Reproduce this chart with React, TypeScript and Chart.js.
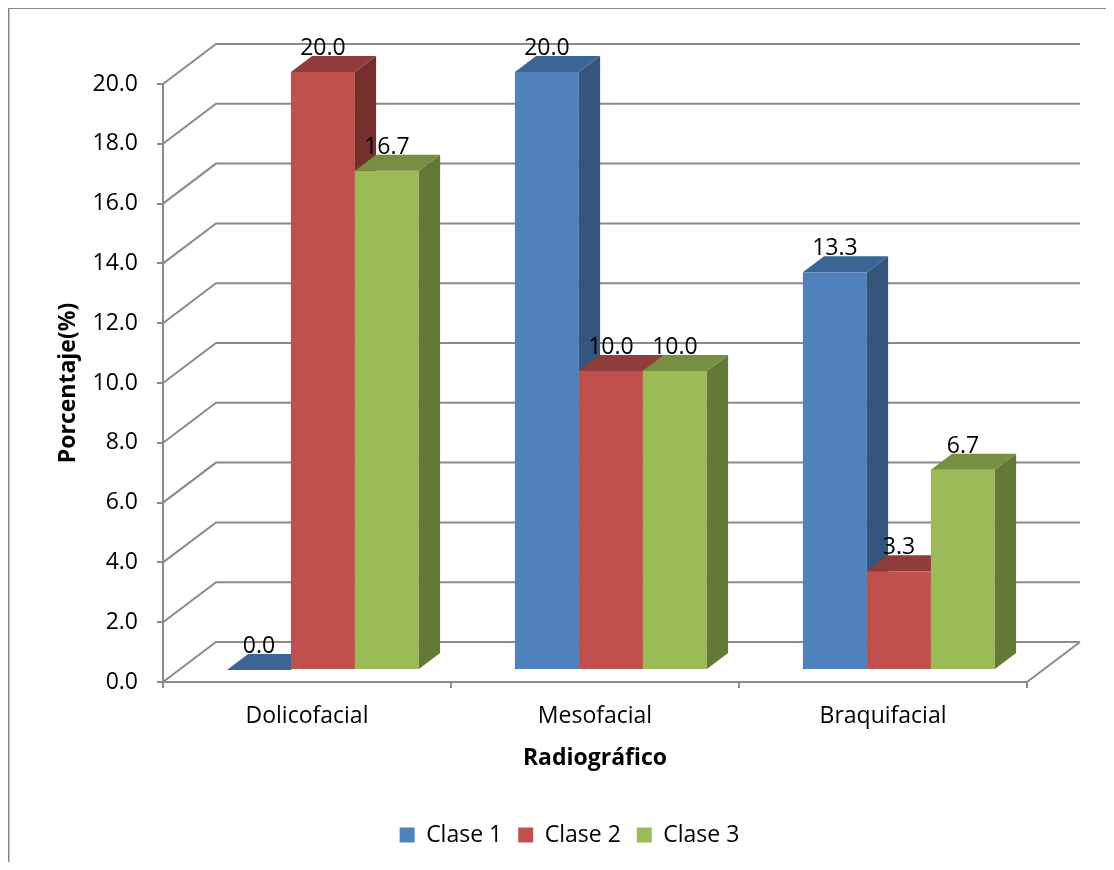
import React, { useEffect, useRef } from "react";
import { Chart, registerables } from "chart.js";

Chart.register(...registerables);

// Chart data
const categories = ["Dolicofacial", "Mesofacial", "Braquifacial"];
const seriesNames = ["Clase 1", "Clase 2", "Clase 3"];
const clase1 = [0.0, 20.0, 13.3];
const clase2 = [20.0, 10.0, 3.3];
const clase3 = [16.7, 10.0, 6.7];
const seriesValues = [clase1, clase2, clase3];

const yMin = 0;
const yMax = 20;
const yStep = 2;

// Face colours per series: front, top, side
const faceColors = [
  { front: "#4F81BD", top: "#3C6595", side: "#34557C" },
  { front: "#C0504D", top: "#8F3C3A", side: "#772F2D" },
  { front: "#9BBB59", top: "#768F41", side: "#647838" },
];

const FONT = "'Open Sans', 'DejaVu Sans', sans-serif";
const FONT_SIZE = 23;
const LINE = "#8a8a8a";

// 3D projection: full depth of the box, and where the bars sit in it
const DEPTH_X = 53;
const DEPTH_Y = -40;
const BAR_NEAR = 0.3;
const BAR_FAR = 0.7;

// left edge of the legend band, so the legend centres under the whole frame
const LEGEND_LEFT = 104;

const frame = {
  id: "frame",
  afterDraw(chart: any) {
    const { ctx, width, height } = chart;
    ctx.save();
    ctx.fillStyle = "#868686";
    ctx.fillRect(0, 0, width, 1);
    ctx.fillRect(0, 0, 1.5, height);
    ctx.restore();
  },
};

const legendBand = {
  id: "legendBand",
  afterLayout(chart: any) {
    const lg = chart.legend;
    if (lg) {
      lg.left = LEGEND_LEFT;
      lg.width = lg.right - lg.left;
    }
  },
};

const box3d = {
  id: "box3d",
  beforeDatasetsDraw(chart: any) {
    const { ctx, chartArea, scales } = chart;
    const ys = scales.y;
    const L = chartArea.left;
    const R = chartArea.right;

    ctx.save();
    // side wall diagonals and back wall gridlines
    ctx.strokeStyle = LINE;
    ctx.lineWidth = 2;
    ctx.beginPath();
    for (const t of ys.ticks) {
      const py = ys.getPixelForValue(t.value);
      ctx.moveTo(L, py);
      ctx.lineTo(L + DEPTH_X, py + DEPTH_Y);
      ctx.lineTo(R + DEPTH_X, py + DEPTH_Y);
    }
    const p0 = ys.getPixelForValue(yMin);
    ctx.moveTo(R, p0);
    ctx.lineTo(R + DEPTH_X, p0 + DEPTH_Y);
    ctx.stroke();

    // boxes, drawn left to right so later fronts cover earlier sides
    const sx = DEPTH_X * BAR_NEAR;
    const sy = DEPTH_Y * BAR_NEAR;
    const dx = DEPTH_X * (BAR_FAR - BAR_NEAR);
    const dy = DEPTH_Y * (BAR_FAR - BAR_NEAR);
    const metas = chart.data.datasets.map((_: any, i: number) => chart.getDatasetMeta(i));
    const labels: { x: number; y: number; text: string }[] = [];

    for (let j = 0; j < categories.length; j++) {
      for (let i = 0; i < metas.length; i++) {
        const el = metas[i].data[j];
        const { x, y, base, width } = el.getProps(["x", "y", "base", "width"], true);
        const c = faceColors[i];
        const x0 = x - width / 2 + sx;
        const x1 = x + width / 2 + sx;
        const yt = y + sy;
        const yb = base + sy;

        if (yb - yt > 0.5) {
          ctx.fillStyle = c.front;
          ctx.fillRect(x0, yt, x1 - x0, yb - yt);
          ctx.fillStyle = c.side;
          ctx.beginPath();
          ctx.moveTo(x1, yt);
          ctx.lineTo(x1 + dx, yt + dy);
          ctx.lineTo(x1 + dx, yb + dy);
          ctx.lineTo(x1, yb);
          ctx.closePath();
          ctx.fill();
        }
        ctx.fillStyle = c.top;
        ctx.beginPath();
        ctx.moveTo(x0, yt);
        ctx.lineTo(x1, yt);
        ctx.lineTo(x1 + dx, yt + dy);
        ctx.lineTo(x0 + dx, yt + dy);
        ctx.closePath();
        ctx.fill();

        const v = seriesValues[i][j];
        labels.push({ x: x + sx, y: yt - 17, text: v.toFixed(1) });
      }
    }

    // value labels
    ctx.fillStyle = "#000";
    ctx.font = `${FONT_SIZE}px ${FONT}`;
    ctx.textAlign = "center";
    ctx.textBaseline = "alphabetic";
    for (const lb of labels) ctx.fillText(lb.text, lb.x, lb.y);

    ctx.restore();
    return false;
  },
};

export default function App() {
  const ref = useRef<HTMLCanvasElement>(null);

  useEffect(() => {
    const canvas = ref.current;
    if (!canvas) return;
    const chart = new Chart(canvas, {
      type: "bar",
      data: {
        labels: categories,
        datasets: seriesNames.map((name, i) => ({
          label: name,
          data: seriesValues[i],
          backgroundColor: faceColors[i].front,
          borderWidth: 0,
        })),
      },
      options: {
        responsive: false,
        animation: false,
        devicePixelRatio: 1,
        layout: { padding: { left: 0, right: 79, top: 76, bottom: 5.5 } },
        datasets: { bar: { categoryPercentage: 2 / 3, barPercentage: 1 } },
        scales: {
          x: {
            offset: true,
            grid: { offset: true, drawOnChartArea: false, tickLength: 6, color: LINE, lineWidth: 2 },
            border: { color: LINE, width: 2 },
            ticks: { padding: 15, color: "#000", font: { family: FONT, size: FONT_SIZE } },
            title: {
              display: true,
              text: "Radiográfico",
              color: "#000",
              font: { family: FONT, size: FONT_SIZE, weight: "bold" },
              padding: { top: 0, bottom: 35.7 },
            },
            afterFit: (s: any) => {
              s.height = 125.5;
            },
          },
          y: {
            min: yMin,
            max: yMax,
            grid: { drawOnChartArea: false, tickLength: 6, color: LINE, lineWidth: 2 },
            border: { color: LINE, width: 2 },
            ticks: {
              stepSize: yStep,
              padding: 19,
              color: "#000",
              font: { family: FONT, size: FONT_SIZE },
              callback: (v: any) => Number(v).toFixed(1),
            },
            title: {
              display: true,
              text: "Porcentaje(%)",
              color: "#000",
              font: { family: FONT, size: FONT_SIZE, weight: "bold" },
              padding: { top: 46.2, bottom: 0 },
            },
            afterFit: (s: any) => {
              s.width = 155;
            },
          },
        },
        plugins: {
          legend: {
            position: "bottom",
            labels: {
              boxWidth: 15,
              boxHeight: 15,
              padding: 16,
              color: "#000",
              font: { family: FONT, size: FONT_SIZE },
            },
          },
          tooltip: { enabled: false },
        },
      } as any,
      plugins: [frame, legendBand, box3d],
    });
    return () => chart.destroy();
  }, []);

  return (
    <div style={{ width: 1098, height: 854 }}>
      <canvas ref={ref} width={1098} height={854} style={{ display: "block" }} />
    </div>
  );
}
